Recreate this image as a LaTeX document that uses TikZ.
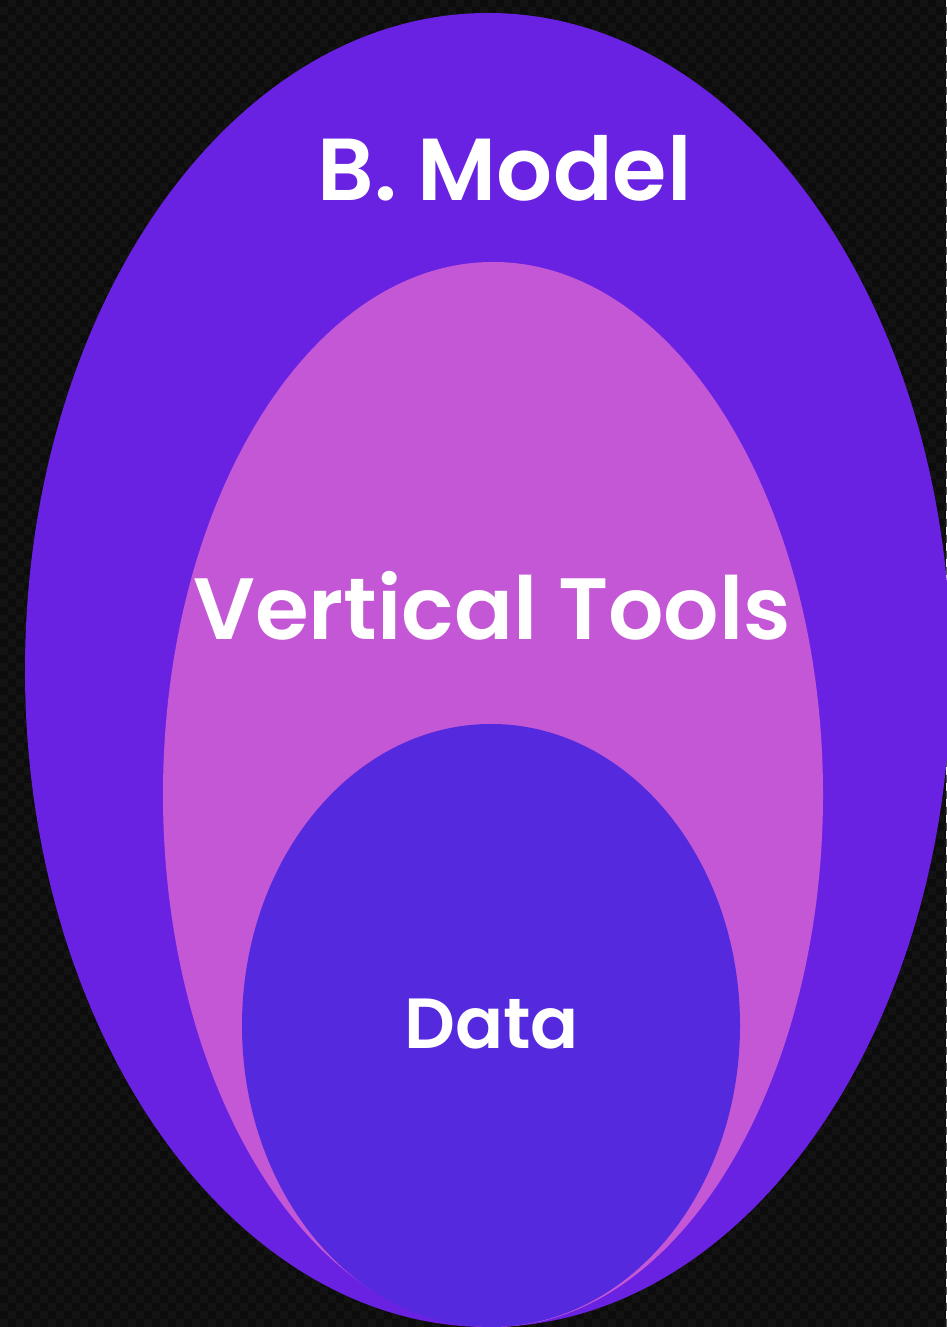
\documentclass[tikz,border=0pt]{standalone}
\usepackage{fontspec}
\setmainfont{Poppins}
\newfontfamily\labelfont{Poppins SemiBold}
\definecolor{bgdark}{HTML}{0C0C0C}
\definecolor{bgcheck}{HTML}{171717}
\definecolor{modelpurple}{HTML}{6A22E2}
\definecolor{toolspink}{HTML}{C457D6}
\definecolor{dataviolet}{HTML}{5529DD}
\tikzset{
  layer/.style={draw=none},
  label text/.style={text=white, inner sep=0pt, anchor=base},
}
\begin{document}
\begin{tikzpicture}[x=1pt,y=1pt]
\useasboundingbox (0,0) rectangle (946,1327);
% textured dark backdrop
\fill[bgdark] (0,0) rectangle (946,1327);
\foreach \j in {0,16,...,1320} {
  \fill[bgcheck, opacity=0.7]
    \foreach \i in {0,16,...,944} {
      (\i,\j) rectangle ++(8,8) (\i+8,\j+8) rectangle ++(8,8)
    };
}
% nested layers, all resting on the same bottom point
\fill[modelpurple, layer] (488,657) ellipse [x radius=463, y radius=657];
\fill[toolspink, layer] (493,532.5) ellipse [x radius=330, y radius=532.5];
\fill[dataviolet, layer] (491,301.5) ellipse [x radius=249, y radius=301.5];
% labels
\node[label text, font=\labelfont\fontsize{88}{92}\selectfont] (model) at (504.5,1126) {B. Model};
\node[label text, font=\labelfont\fontsize{87}{92}\selectfont] (tools) at (492,687) {Vertical Tools};
\node[label text, font=\labelfont\fontsize{71}{78}\selectfont] (data) at (491.5,278) {Data};
\end{tikzpicture}
\end{document}
